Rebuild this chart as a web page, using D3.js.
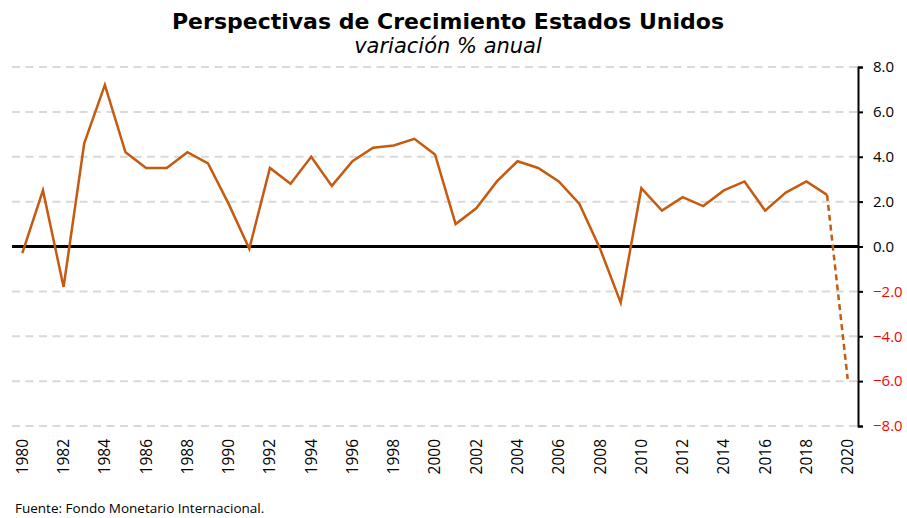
<!DOCTYPE html>
<html>
<head>
<meta charset="utf-8">
<script src="https://cdn.jsdelivr.net/npm/d3@7"></script>
<style>
  body { margin: 0; background: #fff; }
  svg { display: block; }
</style>
</head>
<body>
<svg></svg>
<script>
// datos: crecimiento del PIB de Estados Unidos, % anual (FMI)
var years = d3.range(1980, 2021).map(String);
var growth = [
  -0.3, 2.5, -1.8, 4.6, 7.2, 4.2, 3.5, 3.5, 4.2, 3.7,
   1.9, -0.1, 3.5, 2.8, 4.0, 2.7, 3.8, 4.4, 4.5, 4.8,
   4.1, 1.0, 1.7, 2.9, 3.8, 3.5, 2.9, 1.9, -0.1, -2.5,
   2.6, 1.6, 2.2, 1.8, 2.5, 2.9, 1.6, 2.4, 2.9, 2.3,
  -5.9
];
var lastActual = '2019';
var yTicks = [-8, -6, -4, -2, 0, 2, 4, 6, 8];

var width = 907;
var height = 518;
var margin = {top: 67, right: 49, bottom: 92, left: 12};
var lineColor = '#C55A11';

var svg = d3.select('svg')
  .attr('width', width)
  .attr('height', height);

var x = d3.scaleBand()
  .domain(years)
  .range([margin.left, width - margin.right]);

var y = d3.scaleLinear()
  .domain([-8, 8])
  .range([height - margin.bottom, margin.top]);

var data = years.map(function(yr, i) { return {year: yr, value: growth[i]}; });

// grilla
svg.append('g')
  .selectAll('line')
  .data(yTicks.filter(function(t) { return t !== 0; }))
  .enter().append('line')
  .attr('x1', margin.left)
  .attr('x2', width - margin.right)
  .attr('y1', function(d) { return y(d); })
  .attr('y2', function(d) { return y(d); })
  .attr('stroke', '#d9d9d9')
  .attr('stroke-width', 2)
  .attr('stroke-dasharray', '8,5.5');

// linea cero
svg.append('line')
  .attr('x1', margin.left)
  .attr('x2', width - margin.right)
  .attr('y1', y(0))
  .attr('y2', y(0))
  .attr('stroke', '#000')
  .attr('stroke-width', 3);

// eje derecho
var yAxis = svg.append('g')
  .attr('transform', 'translate(' + (width - margin.right) + ',0)')
  .call(d3.axisRight(y)
    .tickValues(yTicks)
    .tickFormat(d3.format('.1f'))
    .tickSize(5)
    .tickPadding(10));
yAxis.select('.domain').attr('stroke', '#000').attr('stroke-width', 2);
yAxis.selectAll('.tick line').attr('stroke', '#000').attr('stroke-width', 2);
yAxis.selectAll('.tick text')
  .attr('font-family', 'Open Sans, sans-serif')
  .attr('font-size', 15)
  .attr('fill', function(d) { return d < 0 ? '#FF0000' : '#000'; });

// eje inferior (solo etiquetas)
var xAxis = svg.append('g')
  .attr('transform', 'translate(0,' + (height - margin.bottom) + ')')
  .call(d3.axisBottom(x)
    .tickValues(years.filter(function(d) { return +d % 2 === 0; }))
    .tickSize(0)
    .tickPadding(0));
xAxis.select('.domain').remove();
xAxis.selectAll('.tick text')
  .attr('font-family', 'Open Sans, sans-serif')
  .attr('font-size', 15.5)
  .attr('fill', '#000')
  .attr('transform', 'rotate(-90)')
  .attr('text-anchor', 'end')
  .attr('x', -13)
  .attr('y', 0)
  .attr('dy', '0.35em');

var line = d3.line()
  .x(function(d) { return x(d.year) + x.bandwidth() / 2; })
  .y(function(d) { return y(d.value); });

var cut = years.indexOf(lastActual);

svg.append('path')
  .datum(data.slice(0, cut + 1))
  .attr('fill', 'none')
  .attr('stroke', lineColor)
  .attr('stroke-width', 2.5)
  .attr('stroke-linejoin', 'miter')
  .attr('d', line);

svg.append('path')
  .datum(data.slice(cut))
  .attr('fill', 'none')
  .attr('stroke', lineColor)
  .attr('stroke-width', 2.5)
  .attr('stroke-dasharray', '6,4')
  .attr('d', line);

// titulos
svg.append('text')
  .attr('x', 448)
  .attr('y', 29)
  .attr('text-anchor', 'middle')
  .attr('font-family', 'DejaVu Sans, sans-serif')
  .attr('font-weight', 'bold')
  .attr('font-size', 22)
  .text('Perspectivas de Crecimiento Estados Unidos');

svg.append('text')
  .attr('x', 448)
  .attr('y', 53)
  .attr('text-anchor', 'middle')
  .attr('font-family', 'DejaVu Sans, sans-serif')
  .attr('font-style', 'italic')
  .attr('font-size', 21)
  .text('variación % anual');

svg.append('text')
  .attr('x', 15)
  .attr('y', 513)
  .attr('font-family', 'Open Sans, sans-serif')
  .attr('font-size', 13.5)
  .attr('fill', '#000')
  .text('Fuente: Fondo Monetario Internacional.');
</script>
</body>
</html>
